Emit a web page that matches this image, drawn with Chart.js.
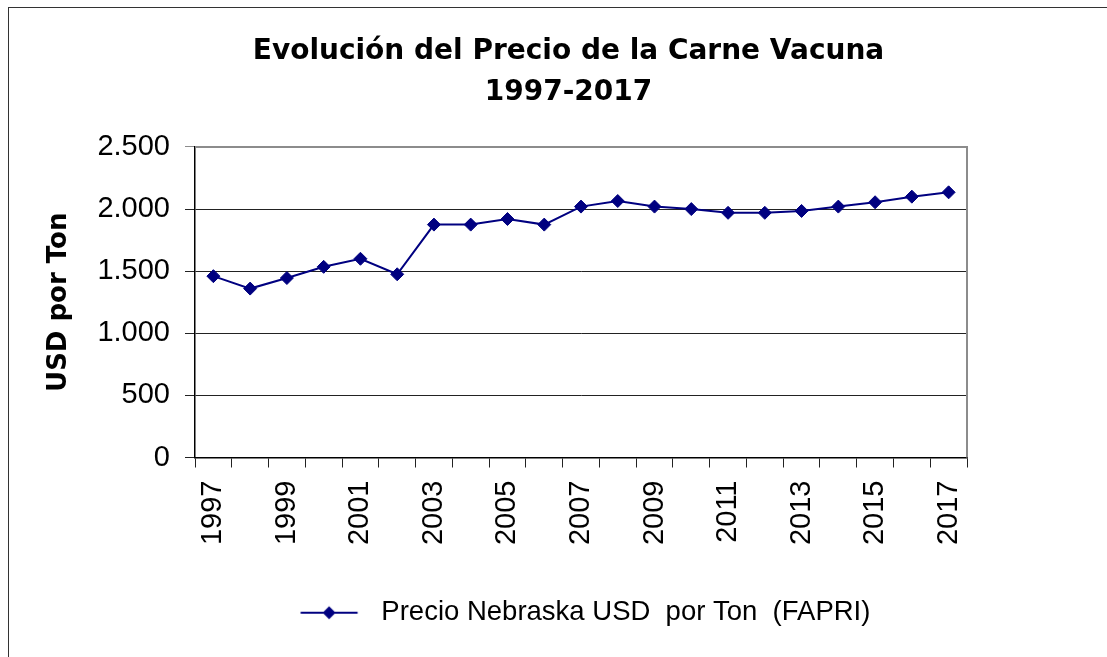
<!DOCTYPE html>
<html>
<head>
<meta charset="utf-8">
<script src="https://cdn.jsdelivr.net/npm/chart.js@4"></script>
<style>
  body { margin: 0; background: #fff; overflow: hidden; }
  #frame { position: absolute; left: 8px; top: 7px; width: 1300px; height: 900px; border: 1px solid #333; }
  #chart { position: absolute; left: 0; top: 0; }
</style>
</head>
<body>
<div id="frame"></div>
<canvas id="chart" width="1107" height="657"></canvas>
<script>
// data
var years = ['1997','1998','1999','2000','2001','2002','2003','2004','2005','2006','2007',
             '2008','2009','2010','2011','2012','2013','2014','2015','2016','2017'];
var precioNebraska = [1460, 1360, 1445, 1535, 1600, 1475, 1875, 1875, 1920, 1875, 2020,
                      2065, 2020, 2000, 1970, 1970, 1985, 2020, 2055, 2100, 2135];
var yTicks = [0, 500, 1000, 1500, 2000, 2500];
var seriesName = 'Precio Nebraska USD  por Ton  (FAPRI)';
var titleLines = ['Evolución del Precio de la Carne Vacuna', '1997-2017'];

var navy = '#000080';

// legend mark: line with a diamond in the middle
var legendMark = document.createElement('canvas');
legendMark.width = 90;
legendMark.height = 16;
var lc = legendMark.getContext('2d');
lc.strokeStyle = navy;
lc.lineWidth = 2;
lc.beginPath();
lc.moveTo(28.5, 8);
lc.lineTo(85.5, 8);
lc.stroke();
lc.fillStyle = navy;
lc.beginPath();
lc.moveTo(57, 1.5); lc.lineTo(63.5, 8); lc.lineTo(57, 14.5); lc.lineTo(50.5, 8);
lc.closePath();
lc.fill();

// grey top and right edges of the plot area
var plotFrame = {
    id: 'plotFrame',
    beforeDatasetsDraw: function(chart) {
        var a = chart.chartArea, ctx = chart.ctx;
        ctx.save();
        ctx.strokeStyle = '#8c8c8c';
        ctx.lineWidth = 2;
        ctx.beginPath();
        ctx.moveTo(a.left, a.top);
        ctx.lineTo(a.right, a.top);
        ctx.lineTo(a.right, a.bottom);
        ctx.stroke();
        ctx.restore();
    }
};

var myChart = new Chart(document.getElementById('chart'), {
    type: 'line',
    data: {
        labels: years,
        datasets: [{
            label: seriesName,
            data: precioNebraska,
            borderColor: navy,
            backgroundColor: navy,
            borderWidth: 2,
            tension: 0,
            pointStyle: 'rectRot',
            pointRadius: 6.5,
            pointBorderWidth: 1,
            pointBackgroundColor: navy,
            pointBorderColor: navy
        }]
    },
    options: {
        responsive: false,
        animation: false,
        devicePixelRatio: 1,
        layout: { padding: { left: 30, right: 0, top: 0, bottom: 20.5 } },
        plugins: {
            tooltip: { enabled: false },
            title: {
                display: true,
                text: titleLines,
                color: '#000',
                font: { family: 'DejaVu Sans', weight: 'bold', size: 28, lineHeight: 1.464 },
                padding: { top: 31.5, bottom: 33.5 }
            },
            legend: {
                position: 'bottom',
                labels: {
                    color: '#000',
                    font: { family: 'Liberation Sans', size: 27.5 },
                    padding: 10,
                    usePointStyle: true,
                    pointStyleWidth: 101,
                    generateLabels: function(chart) {
                        var items = Chart.defaults.plugins.legend.labels.generateLabels(chart);
                        items.forEach(function(it) { it.pointStyle = legendMark; });
                        return items;
                    }
                }
            }
        },
        scales: {
            x: {
                offset: true,
                grid: { offset: true, drawOnChartArea: false, drawTicks: true, tickLength: 10, color: '#222' },
                border: { color: '#000', width: 1.5 },
                ticks: {
                    autoSkip: false,
                    minRotation: 90,
                    maxRotation: 90,
                    padding: 13,
                    color: '#000',
                    font: { family: 'Liberation Sans', size: 29 },
                    callback: function(v, i) { return i % 2 === 0 ? years[i] : ''; }
                },
                afterFit: function(s) { s.height = 131.5; }
            },
            y: {
                min: 0,
                max: 2500,
                afterBuildTicks: function(s) { s.ticks = yTicks.map(function(v) { return { value: v }; }); },
                grid: {
                    tickLength: 10,
                    color: function(c) { return c.tick && c.tick.value === 2500 ? '#8c8c8c' : '#222'; }
                },
                border: { color: '#000', width: 1.5 },
                ticks: {
                    padding: 15,
                    color: '#000',
                    font: { family: 'Liberation Sans', size: 29 },
                    callback: function(v) { return v.toString().replace(/\B(?=(\d{3})+(?!\d))/g, '.'); }
                },
                title: {
                    display: true,
                    text: 'USD por Ton',
                    color: '#000',
                    font: { family: 'DejaVu Sans', weight: 'bold', size: 26, lineHeight: 1.2 },
                    padding: { top: 14, bottom: 0 }
                },
                afterFit: function(s) { s.width = 165; }
            },
            y2: {
                position: 'right',
                display: true,
                grid: { display: false },
                border: { display: false },
                ticks: { display: false },
                afterFit: function(s) { s.width = 140; }
            }
        }
    },
    plugins: [plotFrame]
});
</script>
</body>
</html>
